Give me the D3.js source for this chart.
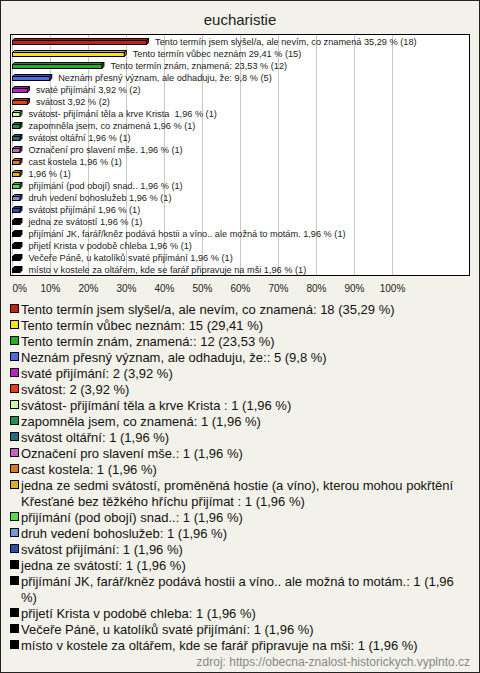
<!DOCTYPE html>
<html><head><meta charset="utf-8">
<script src="https://cdn.jsdelivr.net/npm/d3@7"></script>
<style>
body{margin:0;background:#fff}
svg{display:block}
text{font-family:"Liberation Sans",Arial,sans-serif}
</style>
</head><body><svg id="c" width="480" height="673"></svg>
<script>
const title = "eucharistie";
const source = "zdroj: https://obecna-znalost-historickych.vyplnto.cz";
const labels = [
  "Tento termín jsem slyšel/a, ale nevím, co znamená",
  "Tento termín vůbec neznám",
  "Tento termín znám, znamená:",
  "Neznám přesný význam, ale odhaduju, že:",
  "svaté přijímání",
  "svátost",
  "svátost- přijímání těla a krve Krista ",
  "zapomněla jsem, co znamená",
  "svátost oltářní",
  "Označení pro slavení mše.",
  "cast kostela",
  "jedna ze sedmi svátostí, proměněná hostie (a víno), kterou mohou pokřtění Křesťané bez těžkého hříchu přijímat ",
  "přijímání (pod obojí) snad..",
  "druh vedení bohoslužeb",
  "svátost přijímání",
  "jedna ze svátostí",
  "přijímání JK, farář/kněz podává hostii a víno.. ale možná to motám.",
  "přijetí Krista v podobě chleba",
  "Večeře Páně, u katolíků svaté přijímání",
  "místo v kostele za oltářem, kde se farář připravuje na mši"
];
// text shown next to the bars (item 12 has no text there)
const barLabels = labels.map((l, i) => i === 11 ? "" : l);
const counts = [18, 15, 12, 5, 2, 2, 1, 1, 1, 1, 1, 1, 1, 1, 1, 1, 1, 1, 1, 1];
const percents = [35.29, 29.41, 23.53, 9.8, 3.92, 3.92, 1.96, 1.96, 1.96, 1.96, 1.96, 1.96, 1.96, 1.96, 1.96, 1.96, 1.96, 1.96, 1.96, 1.96];
const colors = ["#c8200e", "#f5e60a", "#1cb41c", "#4a6ee0", "#c21ccc", "#e5400f", "#ccff99", "#1e9050", "#226e84", "#c462c8", "#e07a12", "#e0b010", "#4ee03c", "#6f96dc", "#2a4fae", "#000000", "#000000", "#000000", "#000000", "#000000"];
const tickValues = [0, 10, 20, 30, 40, 50, 60, 70, 80, 90, 100];

const fmt = v => String(v).replace(".", ",");
const svg = d3.select("#c");
const W = 480, H = 673;

// background and frame
svg.append("rect").attr("x", 0.5).attr("y", 0.5).attr("width", W - 1).attr("height", H - 1)
  .attr("fill", "#f3f2ea").attr("stroke", "#222").attr("stroke-width", 1);

svg.append("text").attr("x", 240).attr("y", 25).attr("text-anchor", "middle")
  .attr("font-size", 15).attr("fill", "#222").text(title);

// plot area
const plot = {l: 10, t: 34, r: 470, b: 276};
svg.append("rect").attr("x", plot.l + 0.5).attr("y", plot.t + 0.5)
  .attr("width", plot.r - plot.l - 1).attr("height", plot.b - plot.t - 1)
  .attr("fill", "#fff").attr("stroke", "#000");

const x = d3.scaleLinear().domain([0, 100]).range([12, 392]);
const y = d3.scaleBand().domain(d3.range(labels.length)).range([35.5, 275.5]);

// gridlines
svg.append("g").selectAll("line").data(tickValues).join("line")
  .attr("x1", d => Math.round(x(d)) + 0.5).attr("x2", d => Math.round(x(d)) + 0.5)
  .attr("y1", plot.t + 1).attr("y2", plot.b - 1)
  .attr("stroke", "#c8c8c8").attr("stroke-width", 1);

// x axis labels
const ax = svg.append("g").attr("transform", `translate(0,${plot.b + 6})`)
  .call(d3.axisBottom(x).tickValues(tickValues).tickSize(0).tickFormat(d => d + "%"));
ax.select(".domain").remove();
ax.selectAll("text").attr("font-size", 10).attr("fill", "#222")
  .attr("font-family", "Liberation Sans, Arial, sans-serif");
ax.selectAll(".tick").filter(d => d === 0).select("text").attr("text-anchor", "start");

// 3D bars
const dep = 2;
const bars = svg.append("g").selectAll("g").data(percents).join("g");
bars.each(function (v, i) {
  const g = d3.select(this);
  const cy = y(i) + y.bandwidth() / 2;
  const x0 = x(0) + 0.5, x1 = x(v) + 0.5;
  const y0 = Math.round(cy) - 1.5, y1 = y0 + 4;
  const c = d3.color(colors[i]);
  g.append("path")
    .attr("d", `M${x0},${y0}L${x0 + dep},${y0 - dep}L${x1 + dep},${y0 - dep}L${x1},${y0}Z`)
    .attr("fill", c.darker(0.6)).attr("stroke", "#000").attr("stroke-width", 1);
  g.append("path")
    .attr("d", `M${x1},${y0}L${x1 + dep},${y0 - dep}L${x1 + dep},${y1 - dep}L${x1},${y1}Z`)
    .attr("fill", c.darker(0.8)).attr("stroke", "#000").attr("stroke-width", 1);
  g.append("rect").attr("x", x0).attr("y", y0).attr("width", x1 - x0).attr("height", y1 - y0)
    .attr("fill", colors[i]).attr("stroke", "#000").attr("stroke-width", 1);
});

// bar value labels
svg.append("g").selectAll("text").data(percents).join("text")
  .attr("x", (v) => x(v) + 9)
  .attr("y", (v, i) => y(i) + y.bandwidth() / 2 + 3.2)
  .attr("font-size", 9.2).attr("fill", "#222")
  .style("white-space", "pre")
  .text((v, i) => (barLabels[i] ? barLabels[i] + " " : "") + fmt(v) + " % (" + counts[i] + ")");

// legend with wrapping
const legendX = 10, textX = 21, maxW = 449, lineH = 16;
let ly = 314;
const lg = svg.append("g");
const probe = svg.append("text").attr("font-size", 13).attr("x", -1000).attr("y", -1000).style("white-space", "pre");
const measure = s => { probe.text(s); return probe.node().getComputedTextLength(); };
labels.forEach((lab, i) => {
  const full = lab + ": " + counts[i] + " (" + fmt(percents[i]) + " %)";
  const words = full.split(" ");
  const lines = [];
  let line = "";
  words.forEach(w => {
    const test = line === "" ? w : line + " " + w;
    if (measure(test) > maxW && line !== "") { lines.push(line); line = w; }
    else line = test;
  });
  lines.push(line);
  lg.append("rect").attr("x", legendX + 0.5).attr("y", ly - 9.5).attr("width", 8).attr("height", 8)
    .attr("fill", colors[i]).attr("stroke", "#000").attr("stroke-width", 1);
  lines.forEach((ln, k) => {
    lg.append("text").attr("x", textX).attr("y", ly + k * lineH)
      .attr("font-size", 13).attr("fill", "#111").style("white-space", "pre").text(ln);
  });
  ly += lines.length * lineH;
});
probe.remove();

svg.append("text").attr("x", 470).attr("y", 666).attr("text-anchor", "end")
  .attr("font-size", 12).attr("fill", "#888").text(source);
</script>
</body></html>
